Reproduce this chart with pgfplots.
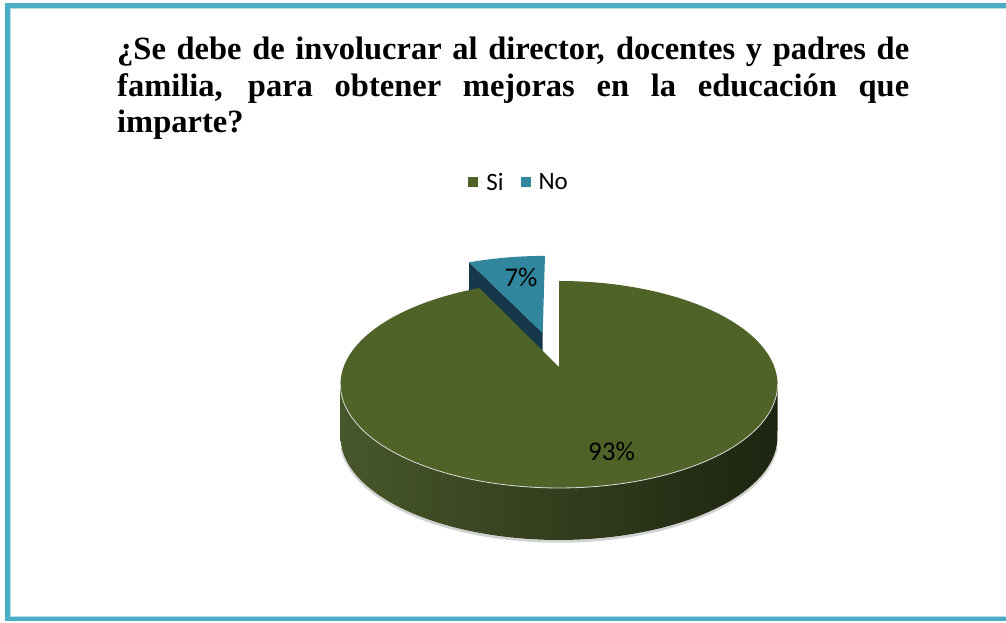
\documentclass[border=0pt]{standalone}
\usepackage{fontspec}
\setmainfont{Liberation Serif}
\newfontfamily\carlito{Carlito}
\usepackage{pgfplots}
\pgfplotsset{compat=1.18}
\usepackage{pgfplotstable}
\definecolor{siTop}{HTML}{4F6228}
\definecolor{noTop}{HTML}{31859C}
\definecolor{noSide}{HTML}{15394A}
\definecolor{frameblue}{HTML}{4BACC6}
\definecolor{framelight}{HTML}{B6DDE8}
\definecolor{sideL}{HTML}{48572A}
\definecolor{sideM}{HTML}{323D1B}
\definecolor{sideR}{HTML}{1D2410}

\pgfplotstableread{
label value
Si 93
No 7
}\piedata

\begin{document}
\begin{tikzpicture}
\pgfplotstablegetelem{0}{value}\of\piedata \let\vSi\pgfplotsretval
\pgfplotstablegetelem{1}{value}\of\piedata \let\vNo\pgfplotsretval
\pgfmathsetmacro\aB{90+360*\vNo/(\vSi+\vNo)}
\pgfmathsetmacro\aM{(90+\aB)/2}
\pgfmathsetmacro\Ou{0.3675*cos(\aM)}
\pgfmathsetmacro\Ov{0.3675*sin(\aM)}
\pgfmathsetmacro\sG{(450-\aB)/335}
\pgfmathsetmacro\sB{(\aB-90)/25}
\begin{axis}[
  at={(0,0)}, anchor=south west,
  width=1006pt, height=622pt, scale only axis,
  xmin=0, xmax=1006, ymin=0, ymax=622,
  hide axis, clip=false,
  declare function={
    PX(\myu,\myv)=559+215.4*\myu/(1+0.169*\myv);
    PY(\myu,\myv)=255+100.54*\myv/(1+0.169*\myv);
    RR(\myt,\mya,\myb)=1-(\myt<(\mya-0.01))-(\myt>(\myb+0.01));
    SA(\myt)=189.73+160.54*(\myt-2*(\myt>1)*(\myt-1));
  },
  legend columns=2,
  legend style={at={(axis description cs:0.516,0.707)}, anchor=center,
    draw=none, fill=none, font=\carlito\fontsize{25}{29}\selectfont,
    /tikz/every even column/.append style={column sep=15pt}},
  legend image code/.code={\fill[#1] (0pt,-5pt) rectangle (10pt,5pt);
    \path (0pt,0pt) -- (16pt,0pt);},
]
% legend entries
\addlegendimage{fill=siTop, draw=none}
\addlegendentry{Si}
\addlegendimage{fill=noTop, draw=none}
\addlegendentry{No}

% --- No slice (exploded): radial face
\addplot[fill=noSide, draw=none, samples at={0,1,1.001,2}]
  ({PX(\Ou+(x-2*(x>1)*(x-1))*cos(\aB), \Ov+(x-2*(x>1)*(x-1))*sin(\aB))},
   {PY(\Ou+(x-2*(x>1)*(x-1))*cos(\aB), \Ov+(x-2*(x>1)*(x-1))*sin(\aB))-52*(x>1)});
% --- No slice top face
\addplot[fill=noTop, draw=none, domain=90-\sB:\aB+\sB, samples=28]
  ({PX(\Ou+RR(x,90,\aB)*cos(x), \Ov+RR(x,90,\aB)*sin(x))},
   {PY(\Ou+RR(x,90,\aB)*cos(x), \Ov+RR(x,90,\aB)*sin(x))});

% --- shadow under the pie
\addplot[gray!35, line width=2.5pt, domain=195:345, samples=80]
  ({PX(cos(x),sin(x))},{PY(cos(x),sin(x))-53.5});
% --- Si slice: front side
\addplot[draw=none, left color=sideL, middle color=sideM, right color=sideR,
  domain=0:2, samples=241]
  ({PX(cos(SA(x)),sin(SA(x)))}, {PY(cos(SA(x)),sin(SA(x)))-52*(x>1)});
% --- Si slice: top face
\addplot[fill=siTop, draw=none, domain=\aB-\sG:450+\sG, samples=338]
  ({PX(RR(x,\aB,450)*cos(x), RR(x,\aB,450)*sin(x))},
   {PY(RR(x,\aB,450)*cos(x), RR(x,\aB,450)*sin(x))});
% --- light rim on the front edge
\addplot[white!70!gray, line width=0.8pt, domain=189.73:350.27, samples=100]
  ({PX(cos(x),sin(x))},{PY(cos(x),sin(x))});

% labels
\node[anchor=base, inner sep=0pt, font=\carlito\fontsize{27}{31}\selectfont] at (axis cs:521,335) {7\%};
\node[anchor=base, inner sep=0pt, font=\carlito\fontsize{27}{31}\selectfont] at (axis cs:611.5,162) {93\%};

% title
\node[anchor=base west, inner sep=0pt, font=\bfseries\fontsize{32.5}{38}\selectfont] at (axis cs:117,562)
  {\makebox[792pt][s]{¿Se debe de involucrar al director, docentes y padres de}};
\node[anchor=base west, inner sep=0pt, font=\bfseries\fontsize{32.5}{38}\selectfont] at (axis cs:117,525)
  {\makebox[792pt][s]{familia, para obtener mejoras en la educación que}};
\node[anchor=base west, inner sep=0pt, font=\bfseries\fontsize{32.5}{38}\selectfont] at (axis cs:117,489)
  {imparte?};

% frame
\draw[framelight, line width=1pt] (axis cs:1006,613.5) -- (axis cs:10,613.5) -- (axis cs:10,5.5) -- (axis cs:1006,5.5);
\draw[frameblue, line width=4.5pt] (axis cs:1006,616.5) -- (axis cs:7.3,616.5) -- (axis cs:7.3,3) -- (axis cs:1006,3);
\end{axis}
\pgfresetboundingbox
\path[use as bounding box] (current axis.south west) rectangle (current axis.north east);
\end{tikzpicture}
\end{document}
